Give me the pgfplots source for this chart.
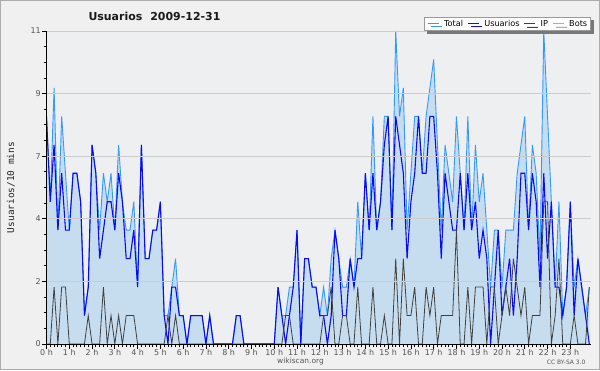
\documentclass[border=0pt]{standalone}
\usepackage{pgfplots}
\pgfplotsset{compat=1.18}
\usepackage{pgfplotstable}
\usepackage{fontspec}
\setmainfont{DejaVu Sans}
\newfontfamily\monofont{DejaVu Sans Mono}
\usetikzlibrary{shadows}

\definecolor{bgouter}{RGB}{240,240,240}
\definecolor{bgplot}{RGB}{238,239,241}
\definecolor{gridc}{RGB}{204,204,204}
\definecolor{fillc}{RGB}{198,221,240}
\definecolor{totalc}{RGB}{51,153,255}
\definecolor{userc}{RGB}{10,10,250}
\definecolor{ipc}{RGB}{64,64,64}
\definecolor{botc}{RGB}{255,165,0}
\definecolor{labc}{RGB}{85,85,85}
\definecolor{shadc}{RGB}{120,120,120}

\pgfplotstableread{
i T U IP B
0 8 8 0 0
1 5 5 0 0
2 9 7 2 0
3 4 4 0 0
4 8 6 2 0
5 6 4 2 0
6 4 4 0 0
7 6 6 0 0
8 6 6 0 0
9 5 5 0 0
10 1 1 0 0
11 2 2 1 0
12 7 7 0 0
13 6 6 0 0
14 4 3 0 0
15 6 4 2 0
16 5 5 0 0
17 6 5 1 0
18 4 4 0 0
19 7 6 1 0
20 5 5 0 0
21 4 3 1 0
22 4 3 1 0
23 5 4 1 0
24 2 2 0 0
25 7 7 0 0
26 3 3 0 0
27 3 3 0 0
28 4 4 0 0
29 4 4 0 0
30 5 5 0 0
31 1 1 0 0
32 1 0 1 0
33 2 2 0 0
34 3 2 1 0
35 1 1 0 0
36 1 1 0 0
37 0 0 0 0
38 1 1 0 0
39 1 1 0 0
40 1 1 0 0
41 1 1 0 0
42 0 0 0 0
43 1 1 0 0
44 0 0 0 0
45 0 0 0 0
46 0 0 0 0
47 0 0 0 0
48 0 0 0 0
49 0 0 0 0
50 1 1 0 0
51 1 1 0 0
52 0 0 0 0
53 0 0 0 0
54 0 0 0 0
55 0 0 0 0
56 0 0 0 0
57 0 0 0 0
58 0 0 0 0
59 0 0 0 0
60 0 0 0 0
61 2 2 0 0
62 1 1 0 0
63 1 0 1 0
64 2 1 1 0
65 2 2 0 0
66 4 4 0 0
67 0 0 0 0
68 3 3 0 0
69 3 3 0 0
70 2 2 0 0
71 2 2 0 0
72 1 1 0 0
73 2 1 1 0
74 1 0 1 0
75 3 1 2 0
76 4 4 0 0
77 3 3 0 0
78 2 1 1 0
79 2 1 1 0
80 3 3 0 0
81 2 2 0 0
82 5 3 2 0
83 3 3 0 0
84 6 6 0 0
85 4 4 0 0
86 8 6 2 0
87 4 4 0 0
88 5 5 0 0
89 8 7 1 0
90 8 8 0 0
91 4 4 0 0
92 11 8 3 0
93 8 7 0 0
94 9 6 3 0
95 4 3 1 0
96 6 5 1 0
97 8 6 2 0
98 8 8 0 0
99 6 6 0 0
100 8 6 2 0
101 9 8 1 0
102 10 8 2 0
103 7 6 0 0
104 4 3 1 0
105 7 6 1 0
106 6 5 1 0
107 5 4 1 0
108 8 4 4 0
109 6 6 0 0
110 4 4 0 0
111 8 6 2 0
112 4 4 0 0
113 7 5 2 0
114 5 3 2 0
115 6 4 2 0
116 4 3 0 0
117 2 0 2 0
118 4 2 2 0
119 4 4 0 0
120 2 1 1 0
121 4 2 2 0
122 4 3 1 0
123 4 1 3 0
124 6 3 2 0
125 7 6 1 0
126 8 6 2 0
127 4 4 0 0
128 7 6 1 0
129 6 5 1 0
130 3 2 1 0
131 11 6 5 0
132 8 3 5 0
133 5 5 0 0
134 2 2 1 0
135 5 2 3 0
136 1 1 0 0
137 2 2 0 0
138 5 5 0 0
139 2 1 1 0
140 3 3 0 0
141 2 2 0 0
142 1 1 0 0
143 2 0 2 0
}\data

\begin{document}
\begin{tikzpicture}[x=1bp,y=1bp]
\fill[bgouter] (0,0) rectangle (600,370);
\draw[gray!65, line width=1.2bp] (0.6,0.6) rectangle (599.4,369.4);
\begin{axis}[
  at={(46.5bp,26bp)}, anchor=south west,
  width=544.7bp, height=313bp, scale only axis,
  xmin=0, xmax=143.5, ymin=0, ymax=11,
  axis background/.style={fill=bgplot},
  axis lines=left, axis line style={-, black, line width=0.9bp},
  axis on top,
  ytick={0,2.2,4.4,6.6,8.8,11}, yticklabels={0,2,4,7,9,11},
  minor y tick num=3,
  xtick={0,6,...,138},
  xticklabels={0 h,1 h,2 h,3 h,4 h,5 h,6 h,7 h,8 h,9 h,10 h,11 h,12 h,13 h,14 h,15 h,16 h,17 h,18 h,19 h,20 h,21 h,22 h,23 h},
  minor x tick num=5,
  tick align=outside,
  major tick length=4.5bp, minor tick length=3bp,
  ymajorgrids, grid style={gridc, line width=0.8bp},
  tick style={black, line width=0.8bp},
  /pgf/number format/assume math mode=true,
  ticklabel style={font=\fontsize{8}{9}\selectfont, text=labc},
  yticklabel style={inner sep=1bp},
  xticklabel style={inner sep=0.8bp},
  legend style={at={(1,1.046)}, anchor=north east, legend columns=4,
    draw=gray!80, line width=0.8bp, fill=white, font=\fontsize{8.2}{9}\selectfont,
    inner xsep=3bp, inner ysep=2.5bp,
    nodes={inner sep=0.6bp},
    drop shadow={shadow xshift=3bp, shadow yshift=-3bp, fill=shadc, opacity=1},
    /tikz/every even column/.append style={column sep=3.5bp},
    /tikz/every odd column/.append style={column sep=4.5bp}},
  legend image code/.code={\draw[#1, line width=0.9bp] (0bp,0bp) -- (11bp,0bp);},
]
\addplot[draw=none, fill=fillc, forget plot] table[x=i,y=T] {\data} \closedcycle;
\addplot[totalc, line width=0.9bp] table[x=i,y=T] {\data};
\addplot[userc, line width=1.1bp] table[x=i,y=U] {\data};
\addplot[ipc, line width=0.8bp] table[x=i,y=IP] {\data};
\addplot[botc, line width=0.8bp] table[x=i,y=B] {\data};
\legend{Total,Usuarios,IP,Bots}
\end{axis}
\node[anchor=base west, font=\bfseries\fontsize{11}{13}\selectfont, text=black!90] at (85,349.3) {Usuarios\hspace{8bp}2009-12-31};
\node[rotate=90, font=\monofont\fontsize{9.5}{11}\selectfont, text=black!85] at (11,182.5) {Usuarios/10 mins};
\node[anchor=base, font=\fontsize{7.5}{9}\selectfont, text=labc] at (300.5,6.5) {wikiscan.org};
\node[anchor=base east, font=\fontsize{6}{7}\selectfont, text=labc] at (589,5.3) {CC BY-SA 3.0};
\pgfresetboundingbox
\useasboundingbox (0,0) rectangle (600,370);
\end{tikzpicture}
\end{document}
